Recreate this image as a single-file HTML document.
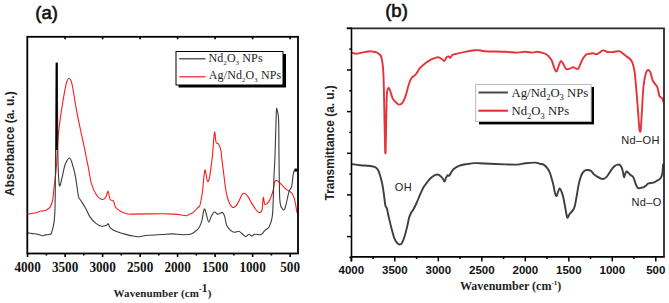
<!DOCTYPE html>
<html><head><meta charset="utf-8"><style>
html,body{margin:0;padding:0;background:#fff;}
body{width:669px;height:303px;overflow:hidden;}
svg{display:block;}
.lab{font-family:"Liberation Sans",sans-serif;font-size:18.5px;fill:#111;stroke:#111;stroke-width:0.6px;}
.ta{font-family:"Liberation Serif",serif;font-weight:bold;font-size:15px;fill:#111;}
.tb{font-family:"Liberation Sans",sans-serif;font-weight:bold;font-size:11.5px;fill:#111;}
.xa{font-family:"Liberation Serif",serif;font-weight:bold;font-size:11px;letter-spacing:0.12px;fill:#222;}
.xb{font-family:"Liberation Serif",serif;font-weight:bold;font-size:12px;fill:#222;}
.ya{font-family:"Liberation Sans",sans-serif;font-weight:bold;font-size:12px;fill:#222;}
.yb{font-family:"Liberation Sans",sans-serif;font-weight:bold;font-size:11.85px;fill:#222;}
.lg{font-family:"Liberation Serif",serif;font-size:12px;letter-spacing:0.15px;fill:#222;}
.lgb{font-family:"Liberation Serif",serif;font-size:12.7px;fill:#222;}
.an{font-family:"Liberation Sans",sans-serif;font-size:11px;letter-spacing:0.4px;fill:#222;}
</style></head><body>
<svg width="669" height="303" viewBox="0 0 669 303">
<text x="35.3" y="19.0" class="lab">(a)</text>
<path d="M28.00,214.10 C29.50,213.83 35.17,212.93 37.00,212.50 C38.83,212.07 37.63,211.83 39.00,211.50 C40.37,211.17 43.83,210.83 45.20,210.50 C46.57,210.17 46.53,209.92 47.20,209.50 C47.87,209.08 48.70,208.42 49.20,208.00 C49.70,207.58 49.70,208.00 50.20,207.00 C50.70,206.00 51.70,203.83 52.20,202.00 C52.70,200.17 52.87,198.62 53.20,196.00 C53.53,193.38 53.68,190.97 54.20,186.30 C54.72,181.63 55.78,174.18 56.30,168.00 C56.82,161.82 56.87,155.63 57.30,149.20 C57.73,142.77 58.18,136.00 58.90,129.40 C59.62,122.80 60.60,116.20 61.60,109.60 C62.60,103.00 64.02,94.48 64.90,89.80 C65.78,85.12 66.20,83.42 66.90,81.50 C67.60,79.58 68.37,78.30 69.10,78.30 C69.83,78.30 70.63,79.58 71.30,81.50 C71.97,83.42 72.25,85.12 73.10,89.80 C73.95,94.48 75.18,103.00 76.40,109.60 C77.62,116.20 79.02,122.80 80.40,129.40 C81.78,136.00 83.70,144.43 84.70,149.20 C85.70,153.97 85.85,155.25 86.40,158.00 C86.95,160.75 87.13,161.33 88.00,165.70 C88.87,170.07 90.17,179.27 91.60,184.20 C93.03,189.13 94.92,192.77 96.60,195.30 C98.28,197.83 100.18,199.05 101.70,199.40 C103.22,199.75 104.63,198.75 105.70,197.40 C106.77,196.05 107.37,190.97 108.10,191.30 C108.83,191.63 109.22,197.82 110.10,199.40 C110.98,200.98 112.45,199.45 113.40,200.80 C114.35,202.15 114.40,205.62 115.80,207.50 C117.20,209.38 119.77,211.02 121.80,212.10 C123.83,213.18 126.30,213.67 128.00,214.00 C129.70,214.33 126.33,214.15 132.00,214.10 C137.67,214.05 154.98,213.70 162.00,213.70 C169.02,213.70 170.07,213.77 174.10,214.10 C178.13,214.43 183.85,215.57 186.20,215.70 C188.55,215.83 187.18,215.33 188.20,214.90 C189.22,214.47 191.28,213.67 192.30,213.10 C193.32,212.53 193.47,212.33 194.30,211.50 C195.13,210.67 196.47,208.95 197.30,208.10 C198.13,207.25 198.80,207.08 199.30,206.40 C199.80,205.72 199.78,206.35 200.30,204.00 C200.82,201.65 201.78,196.93 202.40,192.30 C203.02,187.67 203.53,179.90 204.00,176.20 C204.47,172.50 204.63,169.27 205.20,170.10 C205.77,170.93 206.70,179.85 207.40,181.20 C208.10,182.55 208.73,181.05 209.40,178.20 C210.07,175.35 210.90,167.80 211.40,164.10 C211.90,160.40 211.88,161.30 212.40,156.00 C212.92,150.70 213.88,134.57 214.50,132.30 C215.12,130.03 215.43,140.45 216.10,142.40 C216.77,144.35 217.70,142.65 218.50,144.00 C219.30,145.35 220.40,148.50 220.90,150.50 C221.40,152.50 221.07,152.40 221.50,156.00 C221.93,159.60 222.72,166.05 223.50,172.10 C224.28,178.15 225.18,187.08 226.20,192.30 C227.22,197.52 228.37,200.87 229.60,203.40 C230.83,205.93 232.25,207.50 233.60,207.50 C234.95,207.50 236.35,205.43 237.70,203.40 C239.05,201.37 240.60,196.98 241.70,195.30 C242.80,193.62 243.28,193.12 244.30,193.30 C245.32,193.48 246.55,194.72 247.80,196.40 C249.05,198.08 250.47,201.22 251.80,203.40 C253.13,205.58 254.62,207.98 255.80,209.50 C256.98,211.02 257.88,212.33 258.90,212.50 C259.92,212.67 261.17,213.02 261.90,210.50 C262.63,207.98 262.80,198.42 263.30,197.40 C263.80,196.38 263.97,203.73 264.90,204.40 C265.83,205.07 267.62,203.42 268.90,201.40 C270.18,199.38 271.65,195.50 272.60,192.30 C273.55,189.10 274.03,184.15 274.60,182.20 C275.17,180.25 275.43,180.77 276.00,180.60 C276.57,180.43 277.17,180.60 278.00,181.20 C278.83,181.80 279.82,183.02 281.00,184.20 C282.18,185.38 283.77,187.15 285.10,188.30 C286.43,189.45 287.90,190.32 289.00,191.10 C290.10,191.88 290.82,191.80 291.70,193.00 C292.58,194.20 293.57,195.88 294.30,198.30 C295.03,200.72 295.65,205.08 296.10,207.50 C296.55,209.92 296.85,211.92 297.00,212.80" fill="none" stroke="#ff1a1a" stroke-width="1.1" stroke-linejoin="round"/>
<path d="M28.00,232.90 C28.70,233.02 30.63,233.38 32.20,233.60 C33.77,233.82 35.65,233.83 37.40,234.20 C39.15,234.57 41.38,235.68 42.70,235.80 C44.02,235.92 44.20,235.12 45.30,234.90 C46.40,234.68 48.30,234.72 49.30,234.50 C50.30,234.28 50.85,234.18 51.30,233.60 C51.75,233.02 51.67,232.22 52.00,231.00 C52.33,229.78 52.87,228.80 53.30,226.30 C53.73,223.80 54.27,222.05 54.60,216.00 C54.93,209.95 55.03,215.50 55.30,190.00 C55.57,164.50 55.87,84.17 56.20,63.00 C56.53,62.70 57.03,62.70 57.30,63.00 C57.57,77.50 57.47,129.62 57.80,150.00 C58.13,170.38 58.60,180.63 59.30,185.30 C60.00,188.16 61.05,181.38 62.00,178.00 C62.95,174.62 63.77,168.33 65.00,165.00 C66.23,161.67 68.23,158.33 69.40,158.00 C70.57,157.67 71.00,159.97 72.00,163.00 C73.00,166.03 74.32,170.63 75.40,176.20 C76.48,181.77 77.65,192.43 78.50,196.40 C79.35,200.37 79.33,198.07 80.50,200.00 C81.67,201.93 84.00,205.32 85.50,208.00 C87.00,210.68 87.82,213.57 89.50,216.10 C91.18,218.63 93.57,221.52 95.60,223.20 C97.63,224.88 99.85,225.87 101.70,226.20 C103.55,226.53 105.63,225.60 106.70,225.20 C107.77,224.80 107.43,223.30 108.10,223.80 C108.77,224.30 109.42,226.95 110.70,228.20 C111.98,229.45 113.60,230.35 115.80,231.30 C118.00,232.25 121.20,233.13 123.90,233.90 C126.60,234.67 129.48,235.43 132.00,235.90 C134.52,236.37 136.33,236.80 139.00,236.70 C141.67,236.60 144.17,235.67 148.00,235.30 C151.83,234.93 157.98,234.73 162.00,234.50 C166.02,234.27 168.73,233.87 172.10,233.90 C175.47,233.93 179.18,234.63 182.20,234.70 C185.22,234.77 188.02,234.87 190.20,234.30 C192.38,233.73 193.78,232.48 195.30,231.30 C196.82,230.12 198.18,229.05 199.30,227.20 C200.42,225.35 201.32,222.72 202.00,220.20 C202.68,217.68 202.93,213.95 203.40,212.10 C203.87,210.25 204.23,208.43 204.80,209.10 C205.37,209.77 206.13,213.92 206.80,216.10 C207.47,218.28 208.03,222.20 208.80,222.20 C209.57,222.20 210.45,217.78 211.40,216.10 C212.35,214.42 213.48,212.43 214.50,212.10 C215.52,211.77 216.50,213.93 217.50,214.10 C218.50,214.27 219.67,213.37 220.50,213.10 C221.33,212.83 221.82,212.00 222.50,212.50 C223.18,213.00 223.92,213.98 224.60,216.10 C225.28,218.22 225.60,222.83 226.60,225.20 C227.60,227.57 229.27,229.12 230.60,230.30 C231.93,231.48 233.25,232.13 234.60,232.30 C235.95,232.47 237.52,231.13 238.70,231.30 C239.88,231.47 240.53,232.40 241.70,233.30 C242.87,234.20 244.52,236.53 245.70,236.70 C246.88,236.87 247.78,234.43 248.80,234.30 C249.82,234.17 250.80,235.90 251.80,235.90 C252.80,235.90 253.28,234.50 254.80,234.30 C256.32,234.10 259.22,235.14 260.90,234.70 C262.58,234.03 263.57,231.55 264.90,230.30 C266.23,229.05 267.72,229.22 268.90,227.20 C270.08,225.18 271.32,221.72 272.00,218.20 C272.68,214.68 272.67,213.10 273.00,206.10 C273.33,199.10 273.67,184.55 274.00,176.20 C274.33,167.85 274.62,166.70 275.00,156.00 C275.38,145.30 275.97,119.82 276.30,112.00 C276.63,107.78 276.62,107.78 277.00,109.10 C277.38,110.43 278.27,112.18 278.60,120.00 C278.93,127.82 278.80,142.73 279.00,156.00 C279.20,169.27 279.23,190.80 279.80,199.60 C280.37,208.40 281.65,207.13 282.40,208.80 C283.15,210.18 283.68,210.18 284.30,209.60 C284.92,208.87 285.32,207.38 286.10,204.40 C286.88,201.42 288.07,194.70 289.00,191.70 C289.93,188.70 291.03,189.05 291.70,186.40 C292.37,183.75 292.57,178.43 293.00,175.80 C293.43,173.17 293.63,171.65 294.30,170.60 C294.97,169.55 296.55,169.68 297.00,169.50" fill="none" stroke="#3c3c3c" stroke-width="1.1" stroke-linejoin="round"/>
<line x1="56.7" y1="63.2" x2="56.7" y2="150" stroke="#000" stroke-width="1.8"/>
<rect x="294.5" y="168.6" width="2.6" height="3" fill="#000"/>
<rect x="27.3" y="36.8" width="270.7" height="216.7" fill="none" stroke="#000" stroke-width="1.8"/>
<line x1="27.6" y1="253.5" x2="27.6" y2="257.0" stroke="#000" stroke-width="1.6"/>
<text transform="translate(27.6,271.6) scale(0.88,1)" class="ta" text-anchor="middle">4000</text>
<line x1="46.4" y1="253.5" x2="46.4" y2="255.5" stroke="#000" stroke-width="1.6"/>
<line x1="65.1" y1="253.5" x2="65.1" y2="257.0" stroke="#000" stroke-width="1.6"/>
<line x1="65.1" y1="36.8" x2="65.1" y2="39.3" stroke="#000" stroke-width="1.6"/>
<text transform="translate(65.1,271.6) scale(0.88,1)" class="ta" text-anchor="middle">3500</text>
<line x1="83.8" y1="253.5" x2="83.8" y2="255.5" stroke="#000" stroke-width="1.6"/>
<line x1="102.6" y1="253.5" x2="102.6" y2="257.0" stroke="#000" stroke-width="1.6"/>
<line x1="102.6" y1="36.8" x2="102.6" y2="39.3" stroke="#000" stroke-width="1.6"/>
<text transform="translate(102.6,271.6) scale(0.88,1)" class="ta" text-anchor="middle">3000</text>
<line x1="121.3" y1="253.5" x2="121.3" y2="255.5" stroke="#000" stroke-width="1.6"/>
<line x1="140.1" y1="253.5" x2="140.1" y2="257.0" stroke="#000" stroke-width="1.6"/>
<line x1="140.1" y1="36.8" x2="140.1" y2="39.3" stroke="#000" stroke-width="1.6"/>
<text transform="translate(140.1,271.6) scale(0.88,1)" class="ta" text-anchor="middle">2500</text>
<line x1="158.8" y1="253.5" x2="158.8" y2="255.5" stroke="#000" stroke-width="1.6"/>
<line x1="177.6" y1="253.5" x2="177.6" y2="257.0" stroke="#000" stroke-width="1.6"/>
<line x1="177.6" y1="36.8" x2="177.6" y2="39.3" stroke="#000" stroke-width="1.6"/>
<text transform="translate(177.6,271.6) scale(0.88,1)" class="ta" text-anchor="middle">2000</text>
<line x1="196.3" y1="253.5" x2="196.3" y2="255.5" stroke="#000" stroke-width="1.6"/>
<line x1="215.1" y1="253.5" x2="215.1" y2="257.0" stroke="#000" stroke-width="1.6"/>
<line x1="215.1" y1="36.8" x2="215.1" y2="39.3" stroke="#000" stroke-width="1.6"/>
<text transform="translate(215.1,271.6) scale(0.88,1)" class="ta" text-anchor="middle">1500</text>
<line x1="233.8" y1="253.5" x2="233.8" y2="255.5" stroke="#000" stroke-width="1.6"/>
<line x1="252.6" y1="253.5" x2="252.6" y2="257.0" stroke="#000" stroke-width="1.6"/>
<line x1="252.6" y1="36.8" x2="252.6" y2="39.3" stroke="#000" stroke-width="1.6"/>
<text transform="translate(252.6,271.6) scale(0.88,1)" class="ta" text-anchor="middle">1000</text>
<line x1="271.4" y1="253.5" x2="271.4" y2="255.5" stroke="#000" stroke-width="1.6"/>
<line x1="290.1" y1="253.5" x2="290.1" y2="257.0" stroke="#000" stroke-width="1.6"/>
<line x1="290.1" y1="36.8" x2="290.1" y2="39.3" stroke="#000" stroke-width="1.6"/>
<text transform="translate(290.1,271.6) scale(0.88,1)" class="ta" text-anchor="middle">500</text>
<text x="113.5" y="296.8" class="xa">Wavenumber (cm<tspan dy="-5" font-size="8">-</tspan><tspan dy="0.3" font-size="11.5">1</tspan><tspan dy="4.7">)</tspan></text>
<text transform="translate(13.7,196) rotate(-90)" class="ya">Absorbance (a. u.)</text>
<rect x="178.5" y="54" width="107.5" height="33.5" fill="#000"/>
<rect x="176" y="51.5" width="107" height="33.5" fill="#fff" stroke="#000" stroke-width="1"/>
<line x1="179.2" y1="58.8" x2="205.6" y2="58.8" stroke="#333" stroke-width="1.2"/>
<line x1="179.2" y1="76.8" x2="205.6" y2="76.8" stroke="#ff1a1a" stroke-width="1.2"/>
<text x="208.5" y="61.7" class="lg">Nd<tspan font-size="6.5" dy="2.9">2</tspan><tspan dy="-2.9">O</tspan><tspan font-size="6.5" dy="2.9">3</tspan><tspan dy="-2.9"> NPs</tspan></text>
<text x="208.7" y="78.8" class="lg">Ag/Nd<tspan font-size="6.5" dy="2.9">2</tspan><tspan dy="-2.9">O</tspan><tspan font-size="6.5" dy="2.9">3</tspan><tspan dy="-2.9"> NPs</tspan></text>
<text x="385.2" y="17.1" class="lab">(b)</text>
<path d="M352.00,52.60 C352.67,52.80 354.32,53.80 356.00,53.80 C357.68,53.80 359.73,53.03 362.10,52.60 C364.47,52.17 368.22,51.30 370.20,51.20 C372.18,51.10 373.00,51.83 374.00,52.00 C375.00,52.17 375.38,51.87 376.20,52.20 C377.02,52.53 378.12,53.37 378.90,54.00 C379.68,54.63 380.33,54.68 380.90,56.00 C381.47,57.32 381.90,59.27 382.30,61.90 C382.70,64.53 383.03,67.17 383.30,71.80 C383.57,76.43 383.70,81.67 383.90,89.70 C384.10,97.73 384.28,109.43 384.50,120.00 C384.72,130.57 385.02,147.60 385.20,153.10 C385.38,153.44 385.43,153.44 385.60,153.00 C385.77,147.48 385.98,129.88 386.20,120.00 C386.42,110.12 386.55,99.02 386.90,93.70 C387.25,88.38 387.82,88.77 388.30,88.10 C388.78,87.43 389.05,87.95 389.80,89.70 C390.55,91.45 391.63,96.35 392.80,98.60 C393.97,100.85 395.63,102.20 396.80,103.20 C397.97,104.20 398.82,104.70 399.80,104.60 C400.78,104.50 401.72,104.10 402.70,102.60 C403.68,101.10 404.70,98.58 405.70,95.60 C406.70,92.62 407.70,87.67 408.70,84.70 C409.70,81.73 410.55,79.50 411.70,77.80 C412.85,76.10 414.17,76.18 415.60,74.50 C417.03,72.82 418.63,69.60 420.30,67.70 C421.97,65.80 423.83,64.45 425.60,63.10 C427.37,61.75 429.15,60.52 430.90,59.60 C432.65,58.68 434.78,57.97 436.10,57.60 C437.42,57.23 437.80,57.13 438.80,57.40 C439.80,57.67 441.18,58.62 442.10,59.20 C443.02,59.78 443.53,61.23 444.30,60.90 C445.07,60.57 445.97,57.93 446.70,57.20 C447.43,56.47 448.08,56.40 448.70,56.50 C449.32,56.60 449.75,58.08 450.40,57.80 C451.05,57.52 451.45,55.50 452.60,54.80 C453.75,54.10 455.20,54.08 457.30,53.60 C459.40,53.12 462.25,52.45 465.20,51.90 C468.15,51.35 472.68,50.58 475.00,50.30 C477.32,50.02 477.43,50.05 479.10,50.20 C480.77,50.35 480.65,50.93 485.00,51.20 C489.35,51.47 499.82,51.57 505.20,51.80 C510.58,52.03 513.93,52.60 517.30,52.60 C520.67,52.60 522.88,51.80 525.40,51.80 C527.92,51.80 530.38,52.60 532.40,52.60 C534.42,52.60 535.65,51.70 537.50,51.80 C539.35,51.90 541.82,52.63 543.50,53.20 C545.18,53.77 546.25,54.02 547.60,55.20 C548.95,56.38 550.43,58.03 551.60,60.30 C552.77,62.57 553.80,66.92 554.60,68.80 C555.40,70.68 555.80,71.85 556.40,71.60 C557.00,71.35 557.45,69.05 558.20,67.30 C558.95,65.55 559.98,61.52 560.90,61.10 C561.82,60.68 562.78,63.47 563.70,64.80 C564.62,66.13 565.28,68.50 566.40,69.10 C567.52,69.64 569.30,68.73 570.40,68.40 C571.50,68.07 572.12,67.10 573.00,67.10 C573.88,67.10 574.82,68.12 575.70,68.40 C576.58,68.68 577.53,69.24 578.30,68.80 C579.07,68.12 579.63,65.80 580.30,64.30 C580.97,62.80 581.32,61.43 582.30,59.80 C583.28,58.17 584.93,55.50 586.20,54.50 C587.47,53.50 588.77,54.02 589.90,53.80 C591.03,53.58 591.98,53.13 593.00,53.20 C594.02,53.27 595.08,54.17 596.00,54.20 C596.92,54.23 597.32,54.03 598.50,53.40 C599.68,52.77 601.57,50.63 603.10,50.40 C604.63,50.17 605.97,51.73 607.70,52.00 C609.43,52.27 611.58,52.15 613.50,52.00 C615.42,51.85 617.67,50.87 619.20,51.10 C620.73,51.33 621.53,52.55 622.70,53.40 C623.87,54.25 625.05,55.35 626.20,56.20 C627.35,57.05 628.57,57.43 629.60,58.50 C630.63,59.57 631.62,60.68 632.40,62.60 C633.18,64.52 633.80,67.22 634.30,70.00 C634.80,72.78 635.02,75.45 635.40,79.30 C635.78,83.15 636.22,88.48 636.60,93.10 C636.98,97.72 637.27,101.35 637.70,107.00 C638.13,112.65 638.83,122.92 639.20,127.00 C639.57,131.08 639.67,130.75 639.90,131.50 C640.13,131.80 640.35,131.80 640.60,131.50 C640.85,129.58 641.12,124.47 641.40,120.00 C641.68,115.53 641.95,110.33 642.30,104.70 C642.65,99.07 642.92,91.40 643.50,86.20 C644.08,81.00 645.03,76.20 645.80,73.50 C646.57,70.80 647.33,70.20 648.10,70.00 C648.87,69.80 649.63,70.57 650.40,72.30 C651.17,74.03 651.93,78.47 652.70,80.40 C653.47,82.33 654.22,82.75 655.00,83.90 C655.78,85.05 656.70,85.38 657.40,87.30 C658.10,89.22 658.63,93.73 659.20,95.40 C659.77,97.07 660.27,96.72 660.80,97.30 C661.33,97.88 661.93,98.05 662.40,98.90 C662.87,99.75 663.40,101.82 663.60,102.40" fill="none" stroke="#e6333a" stroke-width="1.9" stroke-linejoin="round"/>
<path d="M352.00,164.10 C353.35,164.28 357.40,164.92 360.10,165.20 C362.80,165.48 366.02,165.57 368.20,165.80 C370.38,166.03 372.03,166.37 373.20,166.60 C374.37,166.83 374.37,166.60 375.20,167.20 C376.03,167.80 377.35,168.70 378.20,170.20 C379.05,171.70 379.62,173.85 380.30,176.20 C380.98,178.55 381.73,181.50 382.30,184.30 C382.87,187.10 383.32,190.38 383.70,193.00 C384.08,195.62 384.30,197.85 384.60,200.00 C384.90,202.15 385.12,204.47 385.50,205.90 C385.88,207.33 386.30,206.48 386.90,208.60 C387.50,210.72 388.28,215.12 389.10,218.60 C389.92,222.08 390.90,226.17 391.80,229.50 C392.70,232.83 393.58,236.32 394.50,238.60 C395.42,240.88 396.45,242.22 397.30,243.20 C398.15,244.18 398.85,244.50 399.60,244.50 C400.35,244.50 400.98,244.48 401.80,243.20 C402.62,241.92 403.58,239.68 404.50,236.80 C405.42,233.92 406.53,229.08 407.30,225.90 C408.07,222.72 408.50,219.82 409.10,217.70 C409.70,215.58 410.15,214.65 410.90,213.20 C411.65,211.75 412.65,210.70 413.60,209.00 C414.55,207.30 415.70,204.97 416.60,203.00 C417.50,201.03 418.18,199.13 419.00,197.20 C419.82,195.27 420.67,193.18 421.50,191.40 C422.33,189.62 423.17,187.87 424.00,186.50 C424.83,185.13 425.53,184.45 426.50,183.20 C427.47,181.95 428.70,180.17 429.80,179.00 C430.90,177.83 432.00,176.93 433.10,176.20 C434.20,175.47 435.45,174.82 436.40,174.60 C437.35,174.38 437.98,174.52 438.80,174.90 C439.62,175.28 440.55,176.13 441.30,176.90 C442.05,177.67 442.75,178.73 443.30,179.50 C443.85,180.27 444.17,181.72 444.60,181.50 C445.03,181.28 445.40,179.25 445.90,178.20 C446.40,177.15 447.05,175.62 447.60,175.20 C448.15,174.78 448.60,176.17 449.20,175.70 C449.80,175.23 450.45,173.50 451.20,172.40 C451.95,171.30 452.40,170.20 453.70,169.10 C455.00,168.00 456.78,166.63 459.00,165.80 C461.22,164.97 464.32,164.55 467.00,164.10 C469.68,163.65 472.10,163.20 475.10,163.10 C478.10,163.00 479.98,163.28 485.00,163.50 C490.02,163.72 499.82,164.22 505.20,164.40 C510.58,164.58 513.93,164.80 517.30,164.60 C520.67,164.40 522.38,163.53 525.40,163.20 C528.42,162.87 532.97,162.50 535.40,162.60 C537.83,162.70 538.65,163.45 540.00,163.80 C541.35,164.15 542.35,164.05 543.50,164.70 C544.65,165.35 545.87,166.43 546.90,167.70 C547.93,168.97 548.93,170.57 549.70,172.30 C550.47,174.03 550.88,175.98 551.50,178.10 C552.12,180.22 552.82,182.50 553.40,185.00 C553.98,187.50 554.47,191.25 555.00,193.10 C555.53,194.95 556.10,196.28 556.60,196.10 C557.10,195.92 557.50,193.27 558.00,192.00 C558.50,190.73 559.07,188.70 559.60,188.50 C560.13,188.30 560.62,189.45 561.20,190.80 C561.78,192.15 562.48,194.10 563.10,196.60 C563.72,199.10 564.32,202.73 564.90,205.80 C565.48,208.87 566.13,213.00 566.60,215.00 C567.07,217.00 567.20,217.98 567.70,217.80 C568.20,217.62 569.02,214.82 569.60,213.90 C570.18,212.98 570.55,213.07 571.20,212.30 C571.85,211.53 572.85,210.57 573.50,209.30 C574.15,208.03 574.52,207.20 575.10,204.70 C575.68,202.20 576.38,197.77 577.00,194.30 C577.62,190.83 578.12,186.98 578.80,183.90 C579.48,180.82 580.25,177.92 581.10,175.80 C581.95,173.68 582.87,172.17 583.90,171.20 C584.93,170.23 586.15,170.08 587.30,170.00 C588.45,169.92 589.63,169.93 590.80,170.70 C591.97,171.47 593.15,173.57 594.30,174.60 C595.45,175.63 596.67,176.28 597.70,176.90 C598.73,177.52 599.53,177.97 600.50,178.30 C601.47,178.63 602.43,179.20 603.50,178.90 C604.57,178.60 605.57,178.05 606.90,176.50 C608.23,174.95 610.15,171.38 611.50,169.60 C612.85,167.82 613.93,166.63 615.00,165.80 C616.07,164.97 617.03,164.70 617.90,164.60 C618.77,164.50 619.53,164.62 620.20,165.20 C620.87,165.78 621.42,166.85 621.90,168.10 C622.38,169.35 622.75,171.17 623.10,172.70 C623.45,174.23 623.65,177.10 624.00,177.30 C624.35,177.50 624.78,174.87 625.20,173.90 C625.62,172.93 625.98,171.70 626.50,171.50 C627.02,171.30 627.62,172.12 628.30,172.70 C628.98,173.28 629.83,174.33 630.60,175.00 C631.37,175.67 632.32,176.02 632.90,176.70 C633.48,177.38 633.62,177.85 634.10,179.10 C634.58,180.35 635.23,182.77 635.80,184.20 C636.37,185.63 636.93,187.02 637.50,187.70 C638.07,188.38 638.52,188.30 639.20,188.30 C639.88,188.30 640.82,187.90 641.60,187.70 C642.38,187.50 643.13,187.48 643.90,187.10 C644.67,186.72 645.42,186.02 646.20,185.40 C646.98,184.78 647.43,183.85 648.60,183.40 C649.77,182.95 651.83,183.12 653.20,182.70 C654.57,182.28 655.58,181.65 656.80,180.90 C658.02,180.15 659.58,179.42 660.50,178.20 C661.42,176.98 661.85,176.03 662.30,173.60 C662.75,171.17 663.05,165.27 663.20,163.60" fill="none" stroke="#3e3e3e" stroke-width="1.9" stroke-linejoin="round"/>
<line x1="351.5" y1="27.5" x2="351.5" y2="261.4" stroke="#000" stroke-width="1.6"/>
<line x1="350.7" y1="256.9" x2="664.8" y2="256.9" stroke="#000" stroke-width="1.6"/>
<line x1="346.7" y1="28.3" x2="664.8" y2="28.3" stroke="#2a2a2a" stroke-width="1.8"/>
<line x1="664.0" y1="28.3" x2="664.0" y2="256.9" stroke="#2a2a2a" stroke-width="1.8"/>
<line x1="347.0" y1="28.3" x2="351.5" y2="28.3" stroke="#000" stroke-width="1.5"/>
<line x1="349.3" y1="49.1" x2="351.5" y2="49.1" stroke="#000" stroke-width="1.5"/>
<line x1="347.0" y1="70.0" x2="351.5" y2="70.0" stroke="#000" stroke-width="1.5"/>
<line x1="349.3" y1="90.8" x2="351.5" y2="90.8" stroke="#000" stroke-width="1.5"/>
<line x1="347.0" y1="111.6" x2="351.5" y2="111.6" stroke="#000" stroke-width="1.5"/>
<line x1="349.3" y1="132.4" x2="351.5" y2="132.4" stroke="#000" stroke-width="1.5"/>
<line x1="347.0" y1="153.3" x2="351.5" y2="153.3" stroke="#000" stroke-width="1.5"/>
<line x1="349.3" y1="174.1" x2="351.5" y2="174.1" stroke="#000" stroke-width="1.5"/>
<line x1="347.0" y1="194.9" x2="351.5" y2="194.9" stroke="#000" stroke-width="1.5"/>
<line x1="349.3" y1="215.8" x2="351.5" y2="215.8" stroke="#000" stroke-width="1.5"/>
<line x1="347.0" y1="236.6" x2="351.5" y2="236.6" stroke="#000" stroke-width="1.5"/>
<line x1="349.3" y1="257.4" x2="351.5" y2="257.4" stroke="#000" stroke-width="1.5"/>
<line x1="351.3" y1="256.9" x2="351.3" y2="261.4" stroke="#000" stroke-width="1.5"/>
<text x="351.3" y="274.1" class="tb" text-anchor="middle">4000</text>
<line x1="373.1" y1="256.9" x2="373.1" y2="259.09999999999997" stroke="#000" stroke-width="1.5"/>
<line x1="394.8" y1="256.9" x2="394.8" y2="261.4" stroke="#000" stroke-width="1.5"/>
<text x="394.8" y="274.1" class="tb" text-anchor="middle">3500</text>
<line x1="416.6" y1="256.9" x2="416.6" y2="259.09999999999997" stroke="#000" stroke-width="1.5"/>
<line x1="438.3" y1="256.9" x2="438.3" y2="261.4" stroke="#000" stroke-width="1.5"/>
<text x="438.3" y="274.1" class="tb" text-anchor="middle">3000</text>
<line x1="460.1" y1="256.9" x2="460.1" y2="259.09999999999997" stroke="#000" stroke-width="1.5"/>
<line x1="481.8" y1="256.9" x2="481.8" y2="261.4" stroke="#000" stroke-width="1.5"/>
<text x="481.8" y="274.1" class="tb" text-anchor="middle">2500</text>
<line x1="503.6" y1="256.9" x2="503.6" y2="259.09999999999997" stroke="#000" stroke-width="1.5"/>
<line x1="525.3" y1="256.9" x2="525.3" y2="261.4" stroke="#000" stroke-width="1.5"/>
<text x="525.3" y="274.1" class="tb" text-anchor="middle">2000</text>
<line x1="547.0" y1="256.9" x2="547.0" y2="259.09999999999997" stroke="#000" stroke-width="1.5"/>
<line x1="568.8" y1="256.9" x2="568.8" y2="261.4" stroke="#000" stroke-width="1.5"/>
<text x="568.8" y="274.1" class="tb" text-anchor="middle">1500</text>
<line x1="590.5" y1="256.9" x2="590.5" y2="259.09999999999997" stroke="#000" stroke-width="1.5"/>
<line x1="612.3" y1="256.9" x2="612.3" y2="261.4" stroke="#000" stroke-width="1.5"/>
<text x="612.3" y="274.1" class="tb" text-anchor="middle">1000</text>
<line x1="634.0" y1="256.9" x2="634.0" y2="259.09999999999997" stroke="#000" stroke-width="1.5"/>
<line x1="655.8" y1="256.9" x2="655.8" y2="261.4" stroke="#000" stroke-width="1.5"/>
<text x="655.8" y="274.1" class="tb" text-anchor="middle">500</text>
<text x="460" y="289.9" class="xb">Wavenumber (cm<tspan dy="-5.4" font-size="7">-1</tspan><tspan dy="5.4">)</tspan></text>
<text transform="translate(333.7,200.4) rotate(-90)" class="yb">Transmittance (a. u.)</text>
<text x="394.8" y="191.4" class="an">OH</text>
<text x="621.2" y="144.2" class="an">Nd–OH</text>
<text x="631.4" y="205.6" class="an">Nd–O</text>
<rect x="479" y="87" width="115" height="37.4" fill="#000"/>
<rect x="475.6" y="84.5" width="115.5" height="36.9" fill="#fff" stroke="#bbb" stroke-width="1"/>
<line x1="478.5" y1="92.5" x2="507.9" y2="92.5" stroke="#4a4a4a" stroke-width="2"/>
<line x1="478.5" y1="110.7" x2="507.9" y2="110.7" stroke="#e8262a" stroke-width="2"/>
<text x="511.6" y="96.5" class="lgb">Ag/Nd<tspan font-size="8.5" dy="3.7">2</tspan><tspan dy="-3.7">O</tspan><tspan font-size="8.5" dy="3.7">3</tspan><tspan dy="-3.7"> NPs</tspan></text>
<text x="511.6" y="115" class="lgb">Nd<tspan font-size="8.5" dy="3.7">2</tspan><tspan dy="-3.7">O</tspan><tspan font-size="8.5" dy="3.7">3</tspan><tspan dy="-3.7"> NPs</tspan></text>
</svg>
</body></html>
